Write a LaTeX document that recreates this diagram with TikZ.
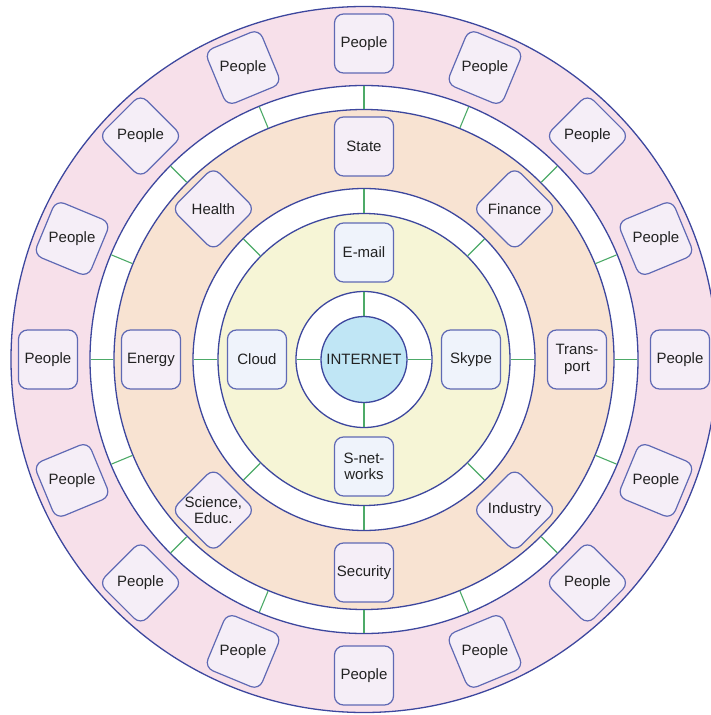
\documentclass[tikz,border=0pt]{standalone}
\usepackage{fontspec}
\setmainfont{Liberation Sans}
\definecolor{ringline}{HTML}{3D479E}
\definecolor{boxline}{HTML}{5F69B4}
\definecolor{greenl}{HTML}{4DAA68}
\definecolor{pinkfill}{HTML}{F7E0EA}
\definecolor{orangefill}{HTML}{F8E3D2}
\definecolor{yellowfill}{HTML}{F6F5D6}
\definecolor{netfill}{HTML}{C0E6F5}
\definecolor{pboxfill}{HTML}{F5EEF7}
\definecolor{iboxfill}{HTML}{EFF3FB}
\definecolor{txtc}{HTML}{222222}
\begin{document}
\begin{tikzpicture}[x=1pt,y=1pt,
  ring/.style={draw=ringline,line width=1.3pt},
  boxshape/.style={draw=boxline,line width=1.2pt,rounded corners=9pt,minimum width=59pt,minimum height=59pt,inner sep=0pt},
  pbox/.style={boxshape,fill=pboxfill},
  ibox/.style={boxshape,fill=iboxfill},
  lbl/.style={font=\fontsize{15}{16.5}\selectfont,text=txtc,align=center,inner sep=0pt},
  spoke/.style={draw=greenl,line width=1.1pt}]
\useasboundingbox (-364,-355.5) rectangle (347,359.5);
% rings
\filldraw[ring,fill=pinkfill] (0,0) circle (353);
\filldraw[ring,fill=white] (0,0) circle (274);
\filldraw[ring,fill=orangefill] (0,0) circle (250);
\filldraw[ring,fill=white] (0,0) circle (171);
\filldraw[ring,fill=yellowfill] (0,0) circle (146);
\filldraw[ring,fill=white] (0,0) circle (68);
% spokes outer ring
\foreach \k in {0,...,15}{
  \coordinate (oa\k) at ({90-22.5*\k}:250.7);
  \coordinate (ob\k) at ({90-22.5*\k}:273.3);
  \draw[spoke] (oa\k) -- (ob\k);
}
% spokes middle ring
\foreach \k in {0,...,7}{
  \coordinate (ma\k) at ({90-45*\k}:146.7);
  \coordinate (mb\k) at ({90-45*\k}:170.3);
  \draw[spoke] (ma\k) -- (mb\k);
}
% spokes inner ring
\foreach \k in {0,...,3}{
  \coordinate (ia\k) at ({90-90*\k}:43.7);
  \coordinate (ib\k) at ({90-90*\k}:67.3);
  \draw[spoke] (ia\k) -- (ib\k);
}
% center
\node[circle,draw=ringline,line width=1.3pt,fill=netfill,minimum size=86pt,inner sep=0pt,lbl] (net) at (0,0) {INTERNET};
% people
\foreach \k in {0,...,15}{
  \node[pbox,rotate={-22.5*\k}] (p\k) at ({90-22.5*\k}:316) {};
  \node[lbl] (pt\k) at (p\k) {People};
}
% middle ring boxes
\foreach \k/\t in {0/State,1/Finance,2/{Trans-\\port},3/Industry,4/Security,5/{Science,\\Educ.},6/Energy,7/Health}{
  \node[pbox,rotate={-45*\k}] (m\k) at ({90-45*\k}:213) {};
  \node[lbl] (mt\k) at (m\k) {\t};
}
% inner boxes
\foreach \k/\t in {0/E-mail,1/Skype,2/{S-net-\\works},3/Cloud}{
  \node[ibox] (i\k) at ({90-90*\k}:107) {};
  \node[lbl] (it\k) at (i\k) {\t};
}
\end{tikzpicture}
\end{document}
